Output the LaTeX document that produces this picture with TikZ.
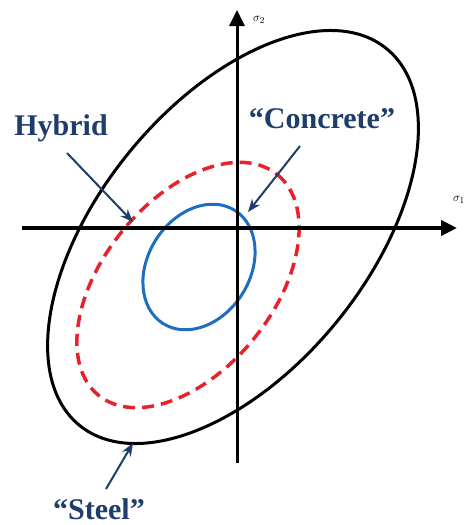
\documentclass[tikz,border=0pt]{standalone}
\usepackage{fontspec}
\setmainfont{Liberation Serif}
\usetikzlibrary{arrows.meta}
\definecolor{tagblue}{HTML}{1F3D6B}
\definecolor{hybridred}{HTML}{E8212B}
\definecolor{concblue}{HTML}{1E6EC0}

\begin{document}
\begin{tikzpicture}[x=1pt, y=-1pt,
  axis/.style={line width=#1, -{Triangle[length=16pt, width=15pt]}},
  envelope/.style={line width=3pt, draw=#1},
  tag/.style={font=\fontsize{30}{34}\selectfont\bfseries, text=tagblue, inner sep=0pt},
  pointer/.style={line width=2pt, draw=tagblue, -{Stealth[length=13pt, width=10pt]}},
  stress/.style={font=\fontsize{13}{15}\selectfont, inner sep=0pt}]
  \useasboundingbox (0,0) rectangle (466,525);
  \clip (0,0) rectangle (466,525);
  % failure envelopes
  \draw[envelope=black, shift={(233,237)}, rotate=50.8] (0,0) ellipse [x radius=243, y radius=134];
  \draw[envelope=hybridred, line width=3.5pt, dash pattern=on 12pt off 7pt,
    shift={(188,285)}, rotate=51] (0,0) ellipse [x radius=142, y radius=85];
  \draw[envelope=concblue, shift={(199,267)}, rotate=57.5] (0,0) ellipse [x radius=67, y radius=51];
  % stress axes
  \coordinate (s1 start) at (22,228);
  \coordinate (s1 end) at (457,228);
  \coordinate (s2 start) at (237,463);
  \coordinate (s2 end) at (237,10);
  \draw[axis=4.2pt] (s1 start) -- (s1 end);
  \draw[axis=3pt] (s2 start) -- (s2 end);
  \node[stress, anchor=east] (sig1) at (465,200) {$\sigma_1$};
  \node[stress, anchor=west] (sig2) at (253,20) {$\sigma_2$};
  % labels
  \node[tag] (hybrid) at (61,128) {Hybrid};
  \node[tag] (concrete) at (322,119) {“Concrete”};
  \node[tag, anchor=base] (steel) at (99,519) {“Steel”};
  \coordinate (hybrid from) at (67,153);
  \coordinate (hybrid to) at (133,222);
  \coordinate (concrete from) at (300,146);
  \coordinate (concrete to) at (248,212);
  \coordinate (steel from) at (106,489);
  \coordinate (steel to) at (133,443);
  \draw[pointer] (hybrid from) -- (hybrid to);
  \draw[pointer] (concrete from) -- (concrete to);
  \draw[pointer] (steel from) -- (steel to);
\end{tikzpicture}
\end{document}
